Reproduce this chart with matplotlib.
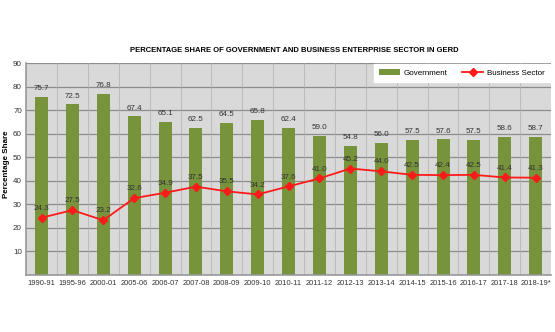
import numpy as np
import matplotlib.pyplot as plt

years = ['1990-91', '1995-96', '2000-01', '2005-06', '2006-07', '2007-08', '2008-09',
         '2009-10', '2010-11', '2011-12', '2012-13', '2013-14', '2014-15', '2015-16',
         '2016-17', '2017-18', '2018-19*']
govt = [75.7, 72.5, 76.8, 67.4, 65.1, 62.5, 64.5, 65.8, 62.4, 59.0, 54.8, 56.0,
        57.5, 57.6, 57.5, 58.6, 58.7]
business = [24.3, 27.5, 23.2, 32.6, 34.9, 37.5, 35.5, 34.2, 37.6, 41.0, 45.2, 44.0,
            42.5, 42.4, 42.5, 41.4, 41.3]

plt.rcParams['font.family'] = ['Liberation Sans', 'DejaVu Sans']

x = np.arange(len(years))

fig = plt.figure(figsize=(5.55, 3.32), dpi=100)
ax = fig.add_axes([0.047, 0.172, 0.946, 0.638])
ax.set_facecolor('#d9d9d9')

# grid
for y in range(10, 91, 10):
    ax.axhline(y, color='#8c8c8c', lw=0.9, zorder=1)
for xv in x[:-1] + 0.5:
    ax.axvline(xv, color='#b0b0b0', lw=0.5, zorder=1)

bars = ax.bar(x, govt, width=0.42, color='#77933c', zorder=2, label='Government')
line, = ax.plot(x, business, color='#ff1a1a', lw=1.3, marker='D', ms=4, zorder=3,
                label='Business Sector')

for i in range(len(x)):
    ax.text(x[i], govt[i] + 2, '%.1f' % govt[i], ha='center', va='bottom',
            fontsize=5.8, color='#333333', zorder=4)
    ax.text(x[i], business[i] + 2.5, '%.1f' % business[i], ha='center', va='bottom',
            fontsize=5.8, color='#333333', zorder=4)

ax.set_xlim(-0.5, len(x) - 0.5)
ax.set_ylim(0, 90)
ax.set_yticks(range(10, 91, 10))
ax.set_xticks(x)
ax.set_xticklabels(years)
ax.tick_params(axis='both', labelsize=5.4, length=0, colors='#333333', pad=4)
ax.tick_params(axis='y', labelsize=5.8, pad=3)
for s in ['top', 'right']:
    ax.spines[s].set_visible(False)
ax.spines['left'].set_color('#999999')
ax.spines['bottom'].set_color('#999999')
ax.spines['left'].set_linewidth(1.2)
ax.spines['bottom'].set_linewidth(1.2)

fig.text(0.011, 0.505, 'Percentage Share', rotation=90, ha='center', va='center',
         fontsize=5.8, fontweight='bold')
fig.text(0.53, 0.848, 'PERCENTAGE SHARE OF GOVERNMENT AND BUSINESS ENTERPRISE SECTOR IN GERD',
         ha='center', va='center', fontsize=5.5, fontweight='bold')

leg = ax.legend([bars, line], ['Government', 'Business Sector'], loc='upper right',
                ncol=2, fontsize=5.8, frameon=True, fancybox=False, borderaxespad=0.15,
                handlelength=2.6, columnspacing=1.8, handletextpad=0.5,
                bbox_to_anchor=(1.0, 1.0), borderpad=0.6)
leg.get_frame().set_facecolor('white')
leg.get_frame().set_edgecolor('white')
leg.get_frame().set_alpha(1)

fig.savefig('out.png', dpi=100)
